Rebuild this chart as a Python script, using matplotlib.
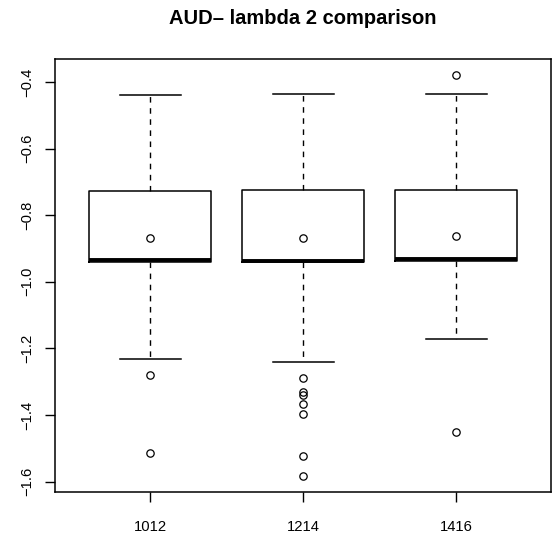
import matplotlib
matplotlib.use("Agg")
import matplotlib.pyplot as plt

plt.rcParams['font.family'] = ['Liberation Sans', 'DejaVu Sans']

# Summary statistics per group
groups = ["1012", "1214", "1416"]
whis_hi = [-0.440, -0.436, -0.436]
q3 = [-0.728, -0.725, -0.724]
medians = [-0.936, -0.937, -0.933]
q1 = [-0.940, -0.942, -0.937]
whis_lo = [-1.232, -1.241, -1.172]
means = [-0.867, -0.868, -0.862]
outliers = [
    [-1.280, -1.514],
    [-1.288, -1.332, -1.340, -1.368, -1.396, -1.523, -1.583],
    [-0.380, -1.451],
]

stats = []
for i, name in enumerate(groups):
    stats.append(dict(label=name, med=medians[i], q1=q1[i], q3=q3[i],
                      whislo=whis_lo[i], whishi=whis_hi[i],
                      mean=means[i], fliers=outliers[i]))

fig = plt.figure(figsize=(5.52, 5.39), dpi=100)
ax = fig.add_axes([0.1005, 0.0872, 0.8975, 0.8028])

circle = dict(marker='o', markerfacecolor='none', markeredgecolor='black',
              markersize=5.3, markeredgewidth=0.9, linestyle='none')

ax.bxp(stats, positions=[1, 2, 3], widths=0.8, showmeans=True,
       showfliers=True,
       boxprops=dict(color='black', linewidth=1.1),
       medianprops=dict(color='black', linewidth=2.8, solid_capstyle='butt'),
       whiskerprops=dict(color='black', linewidth=1.0, linestyle=(0, (4, 4))),
       capprops=dict(color='black', linewidth=1.1),
       capwidths=0.4,
       flierprops=circle, meanprops=circle)

ax.set_xlim(0.38, 3.62)
ax.set_ylim(-1.631, -0.332)
ax.set_xticks([1, 2, 3])
ax.set_xticklabels(groups)
ax.set_yticks([-0.4, -0.6, -0.8, -1.0, -1.2, -1.4, -1.6])
ax.set_yticklabels(["\u22120.4", "\u22120.6", "\u22120.8", "\u22121.0",
                    "\u22121.2", "\u22121.4", "\u22121.6"],
                   rotation=90, va='center')

for s in ax.spines.values():
    s.set_linewidth(1.1)
ax.tick_params(axis='both', length=7.2, width=1.0, labelsize=10.6, colors='black')
ax.tick_params(axis='x', pad=13)
ax.tick_params(axis='y', pad=8)

fig.suptitle("AUD\u2013 lambda 2 comparison", fontsize=14.5, fontweight='bold',
             x=(0.1005 + 0.998) / 2, y=1 - 18 / 539, va='center')

fig.savefig("out.png", dpi=100)
